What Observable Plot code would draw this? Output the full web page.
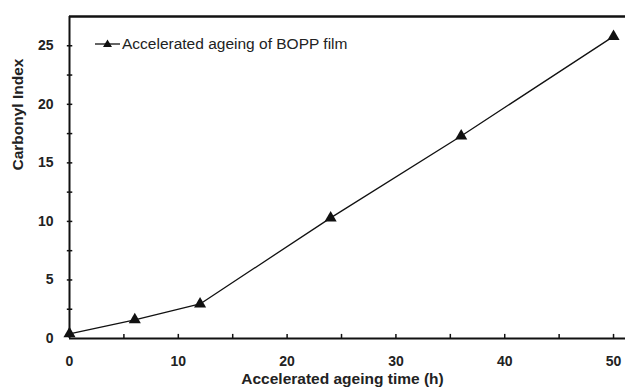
<!DOCTYPE html>
<html>
<head>
<meta charset="utf-8">
<script src="https://cdn.jsdelivr.net/npm/d3@7"></script>
<script src="https://cdn.jsdelivr.net/npm/@observablehq/plot@0.6"></script>
<style>
  html, body { margin: 0; padding: 0; background: #fff; }
  #wrap { position: relative; width: 625px; height: 390px; font-family: "Liberation Sans", Arial, sans-serif; }
  #legend { position: absolute; left: 94px; top: 35px; display: flex; align-items: center; font-size: 15.5px; line-height: 18px; color: #222; }
  #legend svg { margin-right: 1px; }
</style>
</head>
<body>
<div id="wrap">
  <div id="chart"></div>
  <div id="legend"><svg width="27" height="14"><line x1="1" y1="7" x2="26" y2="7" stroke="#111" stroke-width="1.3"></line><path d="M13.5,2.5 L18,10 L9,10 Z" fill="#111"></path></svg><span>Accelerated ageing of BOPP film</span></div>
</div>
<script>
const seriesName = "Accelerated ageing of BOPP film";
const times = [0, 6, 12, 24, 36, 50];
const carbonyl = [0.4, 1.6, 2.95, 10.3, 17.3, 25.8];
const xTickLabels = [0, 10, 20, 30, 40, 50];
const yTickLabels = [0, 5, 10, 15, 20, 25];
const xMinorTicks = [5, 10, 15, 20, 25, 30, 35, 40, 45, 50];
const yMinorTicks = [2.5, 5, 7.5, 10, 12.5, 15, 17.5, 20, 22.5, 25];

const data = times.map((t, i) => ({t, c: carbonyl[i]}));

const chart = Plot.plot({
  width: 625,
  height: 390,
  marginLeft: 69,
  marginRight: 0,
  marginTop: 16,
  marginBottom: 52,
  style: {fontFamily: "'Liberation Sans', Arial, sans-serif", fontSize: "12px", color: "#222", background: "#fff"},
  x: {domain: [0, 51.1]},
  y: {domain: [0, 27.5]},
  marks: [
    Plot.axisX(xTickLabels, {tickSize: 0, tickPadding: 18, fontWeight: "bold", fontSize: 14, label: null, tickFormat: d => String(d)}),
    Plot.axisY(yTickLabels, {tickSize: 0, tickPadding: 16, fontWeight: "bold", fontSize: 14, label: null, tickFormat: d => String(d)}),
    Plot.text(["Accelerated ageing time (h)"], {frameAnchor: "bottom", dy: 45, dx: -5, fontWeight: "bold", fontSize: 15.5, text: d => d}),
    Plot.text(["Carbonyl Index"], {frameAnchor: "left", dx: -51, dy: -7, rotate: -90, fontWeight: "bold", fontSize: 15.5, text: d => d}),
    Plot.ruleX(xMinorTicks, {x: d => d, y1: 0, y2: 0.35, stroke: "#111", strokeWidth: 1.5}),
    Plot.ruleY(yMinorTicks, {y: d => d, x1: -0.2, x2: 0.3, stroke: "#111", strokeWidth: 1.5}),
    Plot.ruleY([0], {stroke: "#111", strokeWidth: 2}),
    Plot.ruleX([0], {stroke: "#111", strokeWidth: 2}),
    Plot.ruleY([27.5], {stroke: "#111", strokeWidth: 2.5}),
    Plot.line(data, {x: "t", y: "c", stroke: "#111", strokeWidth: 1.3}),
    Plot.dot(data, {x: "t", y: "c", symbol: "triangle", fill: "#111", r: 4.5})
  ]
});
document.getElementById("chart").appendChild(chart);
</script>
</body>
</html>
